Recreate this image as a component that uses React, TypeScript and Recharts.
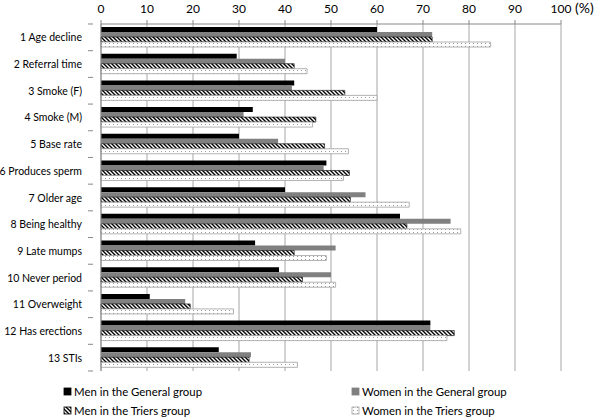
import { BarChart, Bar, XAxis, YAxis, CartesianGrid, Legend } from 'recharts';

const categories = [
  '1 Age decline',
  '2 Referral time',
  '3 Smoke (F)',
  '4 Smoke (M)',
  '5 Base rate',
  '6 Produces sperm',
  '7 Older age',
  '8 Being healthy',
  '9 Late mumps',
  '10 Never period',
  '11 Overweight',
  '12 Has erections',
  '13 STIs',
];
const menGeneral = [60, 29.5, 42, 33, 30, 49, 40, 65, 33.5, 38.7, 10.6, 71.6, 25.6];
const womenGeneral = [72, 40, 41.5, 31, 38.5, 48.4, 57.5, 76, 51, 50, 18.3, 71.6, 32.6];
const menTriers = [72, 42, 53, 46.7, 48.6, 54, 54.2, 66.5, 42, 43.8, 19.4, 76.8, 32.2];
const womenTriers = [84.7, 44.8, 60, 46, 53.8, 52.7, 67, 78.2, 49, 51, 28.8, 75.2, 42.7];
const xTicks = [0, 10, 20, 30, 40, 50, 60, 70, 80, 90, 100];

const data = categories.map((name, i) => ({
  name,
  menGeneral: menGeneral[i],
  womenGeneral: womenGeneral[i],
  menTriers: menTriers[i],
  womenTriers: womenTriers[i],
}));

const FONT = 'Lato, "Open Sans", sans-serif';

const legendItems = [
  { label: 'Men in the General group', fill: '#000', stroke: '#000' },
  { label: 'Women in the General group', fill: '#808080', stroke: '#808080' },
  { label: 'Men in the Triers group', fill: 'url(#hatch)', stroke: '#000' },
  { label: 'Women in the Triers group', fill: 'url(#dots)', stroke: '#a0a0a0' },
];

function CategoryTick(props: any) {
  const { x, y, payload } = props;
  const half = 26.7 / 2;
  return (
    <g>
      <text x={x - 11} y={y} dy={4} textAnchor="end" fontSize={10.5} fill="#000" fontFamily={FONT}>
        {payload.value}
      </text>
      <line x1={x - 5} x2={x} y1={y - half} y2={y - half} stroke="#888" />
      {payload.index === categories.length - 1 && (
        <line x1={x - 5} x2={x} y1={y + half} y2={y + half} stroke="#888" />
      )}
    </g>
  );
}

function LegendContent() {
  return (
    <svg width={600} height={46} style={{ display: 'block' }}>
      {legendItems.map((it, i) => {
        const col = i % 2;
        const row = Math.floor(i / 2);
        const x = col === 0 ? 64 : 352;
        const y = 19 + row * 19;
        return (
          <g key={it.label}>
            <rect x={x} y={y - 4} width={7} height={7} fill={it.fill} stroke={it.stroke} strokeWidth={0.8} />
            <text x={x + 10} y={y + 4} fontSize={11.4} fontFamily={FONT} fill="#000">
              {it.label}
            </text>
          </g>
        );
      })}
    </svg>
  );
}

export default function App() {
  return (
    <div style={{ width: 600, height: 419, background: '#fff' }}>
      <style>{`body{margin:0}`}</style>
      <BarChart
        width={600}
        height={419}
        data={data}
        layout="vertical"
        margin={{ top: 0, right: 39, bottom: 2, left: 0 }}
        barCategoryGap={3}
        barGap={0}
      >
        <defs>
          <pattern id="hatch" width="4" height="4" patternUnits="userSpaceOnUse">
            <rect width="4" height="4" fill="#fff" />
            <path d="M0,0 L4,4 M-1,3 L1,5 M3,-1 L5,1" stroke="#000" strokeWidth={1.4} />
          </pattern>
          <pattern id="dots" width="4" height="3" patternUnits="userSpaceOnUse">
            <rect width="4" height="3" fill="#fff" />
            <rect x="1" y="1" width="1" height="1" fill="#9a9a9a" />
          </pattern>
        </defs>
        <CartesianGrid horizontal={false} stroke="#a6a6a6" />
        <XAxis
          type="number"
          orientation="top"
          domain={[0, 100]}
          ticks={xTicks}
          height={24}
          tickSize={4}
          tickMargin={7}
          stroke="#888"
          tick={{ fontSize: 12, fill: '#000', fontFamily: FONT }}
          label={{ value: '(%)', position: 'right', offset: 14, fontSize: 14, fill: '#000', fontFamily: FONT, dy: -4 }}
        />
        <YAxis
          type="category"
          dataKey="name"
          width={101}
          stroke="#888"
          tickLine={false}
          interval={0}
          tick={<CategoryTick />}
        />
        <Legend
          verticalAlign="bottom"
          height={46}
          content={<LegendContent />}
          wrapperStyle={{ left: 0, bottom: 0, width: 600, height: 46 }}
        />
        <Bar dataKey="menGeneral" name="Men in the General group" fill="#000" isAnimationActive={false} />
        <Bar dataKey="womenGeneral" name="Women in the General group" fill="#808080" isAnimationActive={false} />
        <Bar dataKey="menTriers" name="Men in the Triers group" fill="url(#hatch)" stroke="#000" strokeWidth={0.6} isAnimationActive={false} />
        <Bar dataKey="womenTriers" name="Women in the Triers group" fill="url(#dots)" stroke="#a0a0a0" strokeWidth={0.8} isAnimationActive={false} />
      </BarChart>
    </div>
  );
}
